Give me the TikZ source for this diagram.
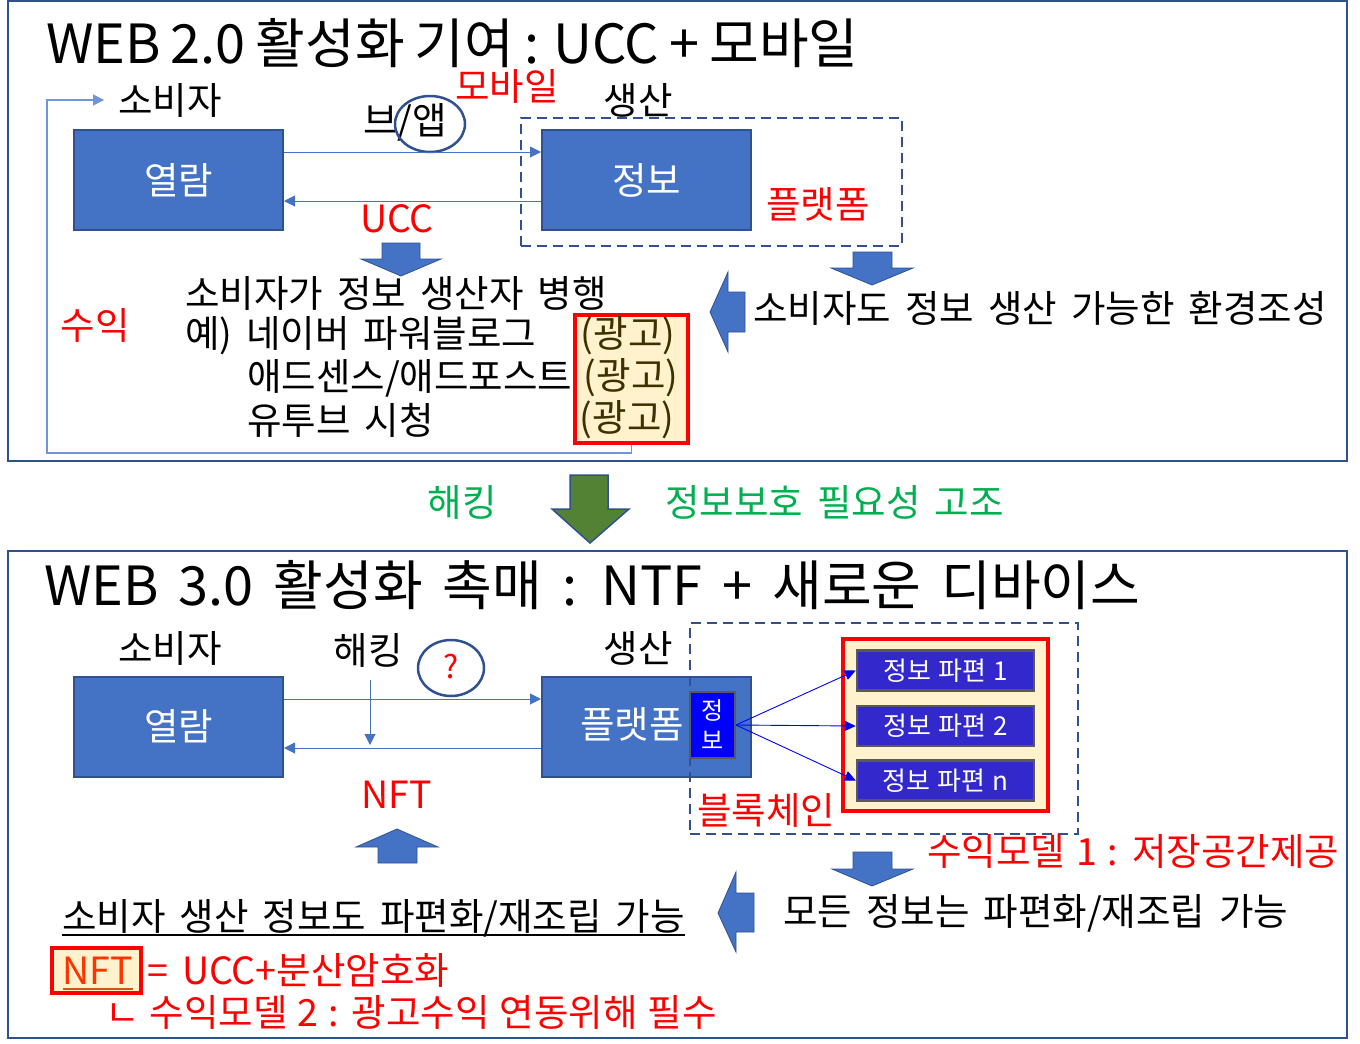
\documentclass[tikz,border=0pt]{standalone}
\usepackage{fontspec}
\setmainfont{Noto Sans CJK KR}
\usetikzlibrary{arrows.meta, positioning, shapes.geometric}
\definecolor{boxblue}{RGB}{68,114,196}
\definecolor{edgeblue}{RGB}{47,82,143}
\definecolor{linkblue}{RGB}{111,149,214}
\definecolor{adfill}{RGB}{255,242,204}
\definecolor{adtext}{RGB}{63,48,0}
\definecolor{hackgreen}{RGB}{0,176,80}
\definecolor{arrowgreen}{RGB}{84,130,53}
\definecolor{fragblue}{RGB}{51,40,204}
\definecolor{chipblue}{RGB}{0,0,255}
\definecolor{nftorange}{RGB}{255,51,0}
\definecolor{nftline}{RGB}{197,90,17}
\newcommand\wordgap[1]{\spaceskip#1\relax}

\begin{document}
\begin{tikzpicture}[x=1pt, y=-1pt,
  panel/.style={draw=edgeblue, line width=2pt},
  box/.style={draw=edgeblue, line width=2pt, fill=boxblue, minimum width=209pt,
              minimum height=100pt, text=white, font=\fontsize{37.5}{44}\selectfont},
  dashbox/.style={draw=edgeblue, line width=2.5pt, dash pattern=on 10pt off 6pt},
  ring/.style={draw=edgeblue, line width=2.5pt, ellipse, inner sep=0pt},
  title/.style={anchor=base west, inner sep=0pt, text depth=0pt,
                font=\fontsize{54}{64}\selectfont\wordgap{10pt}},
  txt/.style={inner sep=0pt, font=\fontsize{37.5}{44}\selectfont\wordgap{14pt}},
  redtxt/.style={txt, text=red},
  flow/.style={-{Triangle[length=11pt,width=11pt]}, draw=boxblue, line width=1pt},
  feedback/.style={-{Triangle[length=11pt,width=11pt]}, draw=linkblue, line width=1.2pt},
  blockarr/.style={fill=boxblue, draw=edgeblue, line width=0.8pt},
  adbox/.style={draw=red, line width=4pt, fill=adfill},
  frag/.style={draw=black!65, line width=2.5pt, fill=fragblue, text=white,
               minimum width=177pt, minimum height=40pt,
               font=\fontsize{26}{30}\selectfont\wordgap{7pt}},
  split/.style={-{Triangle[length=11pt,width=10pt]}, draw=chipblue, line width=0.9pt}
]
\useasboundingbox (0,0) rectangle (1360,1044);

% ---------- WEB 2.0 ----------
\draw[panel] (8,1) rectangle (1347,461);
\node[title] (title1) at (46,63) {WEB 2.0 활성화 기여 : UCC + 모바일};

\node[box] (view1) at (178.5,180) {열람};
\node[box] (info1) at (646.5,180) {정보};
\node[dashbox, minimum width=381pt, minimum height=128pt] (plat1) at (711.5,182) {};

\node[txt] (cons1) at (170,100) {소비자};
\node[txt] (prod1) at (638,100) {생산};
\node[txt] (app1) at (405,122) {브/앱};
\node[ring, minimum width=70pt, minimum height=56pt] (appring) at (430,124) {};
\node[redtxt] (mobile1) at (507,86) {모바일};
\node[redtxt] (ucc1) at (397,219) {UCC};
\node[redtxt] (platlbl1) at (818,204) {플랫폼};

\draw[flow] ([yshift=28pt]view1.east) -- ([yshift=28pt]info1.west);
\draw[flow] ([yshift=-21pt]info1.west) -- ([yshift=-21pt]view1.east);

\filldraw[blockarr] (382,243) -- (420,243) -- (420,259) -- (441,259) -- (401,276)
  -- (361,259) -- (382,259) -- cycle;
\filldraw[blockarr] (853,252) -- (892,252) -- (892,268) -- (913,268) -- (872,285)
  -- (831,268) -- (853,268) -- cycle;
\filldraw[blockarr] (745,292) -- (728,292) -- (728,272) -- (710,312) -- (728,352)
  -- (728,332) -- (745,332) -- cycle;

\node[txt, anchor=west] (both1) at (185,293) {소비자가 정보 생산자 병행};
\node[txt, anchor=west] (ex1) at (185,336) {예) 네이버 파워블로그};
\node[txt, anchor=west] (ex2) at (247,378) {애드센스/애드포스트};
\node[txt, anchor=west] (ex3) at (247,420) {유투브 시청};
\node[txt, anchor=west] (env1) at (753,308) {소비자도 정보 생산 가능한 환경조성};
\node[redtxt] (profit1) at (95,325) {수익};

\node[adbox, minimum width=113pt, minimum height=128pt] (ads) at (631.5,379) {};
\foreach \n/\x/\y in {1/628/336, 2/631/378, 3/627/420}
  \node[txt, text=adtext] (ad\n) at (\x,\y) {(광고)};

\draw[feedback] (ads.south) |- (47,453) |- ([xshift=-14pt]cons1.west);

% ---------- transition ----------
\node[txt, text=hackgreen] (hack0) at (462,502) {해킹};
\filldraw[fill=arrowgreen, draw=edgeblue, line width=1.5pt] (570,475) -- (608,475)
  -- (608,509) -- (629,509) -- (590,543) -- (552,509) -- (570,509) -- cycle;
\node[txt, text=hackgreen, anchor=west] (need0) at (665,502) {정보보호 필요성 고조};

% ---------- WEB 3.0 ----------
\draw[panel] (8,551) rectangle (1347,1038);
\node[title, font=\fontsize{54}{64}\selectfont\wordgap{20pt}] (title2) at (44,605)
  {WEB 3.0 활성화 촉매 : NTF + 새로운 디바이스};

\node[box] (view2) at (178.5,726.5) {열람};
\node[box] (plat2) at (646.5,726.5) {};
\node[txt, text=white] (platlbl2) at (632,724) {플랫폼};
\node[dashbox, minimum width=388pt, minimum height=211pt] (chain2) at (884,728.5) {};
\node[draw=black!65, line width=2pt, fill=chipblue, text=white, minimum width=45pt,
      minimum height=66pt, inner sep=0pt, align=center,
      font=\fontsize{24}{30}\selectfont] (chip) at (712.5,725) {정\\보};

\node[txt] (cons2) at (170,648) {소비자};
\node[txt] (hack2) at (368,650) {해킹};
\node[txt] (prod2) at (638,648) {생산};
\node[ring, minimum width=66pt, minimum height=56pt] (qring) at (451,668) {};
\node[redtxt, font=\fontsize{32}{38}\selectfont] (qmark) at (451,667) {?};

\draw[flow] ([yshift=27.5pt]view2.east) -- ([yshift=27.5pt]plat2.west);
\draw[flow] ([yshift=-21.5pt]plat2.west) -- ([yshift=-21.5pt]view2.east);
\coordinate (tap) at (370,745);
\draw[flow] (370,680) -- (tap);

\node[redtxt] (nft2) at (397,795) {NFT};
\filldraw[blockarr] (378,863) -- (378,847) -- (356,847) -- (397,829) -- (438,847)
  -- (417,847) -- (417,863) -- cycle;

\node[adbox, minimum width=205pt, minimum height=172pt] (store) at (945.5,725) {};
\foreach \n/\y/\t in {1/670.5/1, 2/726/2, 3/780.5/n}
  \node[frag] (frag\n) at (945.5,\y) {정보 파편 \t};
\foreach \n in {1,2,3}
  \draw[split] (chip.east) -- (frag\n.west);

\node[redtxt] (chainlbl) at (766,810) {블록체인};
\node[redtxt, anchor=west, font=\fontsize{37.5}{44}\selectfont\wordgap{11pt}] (model1)
  at (927,851) {수익모델 1 : 저장공간제공};

\filldraw[blockarr] (853,852) -- (892,852) -- (892,869) -- (913,869) -- (872,886)
  -- (832,869) -- (853,869) -- cycle;
\filldraw[blockarr] (754,893) -- (736,893) -- (736,872) -- (718,913) -- (736,952)
  -- (736,932) -- (754,932) -- cycle;
\node[txt, anchor=west] (frag0) at (783,913) {모든 정보는 파편화/재조립 가능};

\node[txt, anchor=west] (note2) at (62,918) {소비자 생산 정보도 파편화/재조립 가능};
\draw[line width=2pt] ([yshift=-5pt]note2.base west) -- ([yshift=-5pt]note2.base east);

\node[adbox, minimum width=89pt, minimum height=45pt] (nftbox) at (96.5,970.5) {};
\node[txt, text=nftorange] (nftword) at (98,971) {NFT};
\draw[nftline, line width=2pt] ([yshift=-4pt]nftword.base west) -- ([yshift=-4pt]nftword.base east);
\node[redtxt, anchor=west] (nftdef) at (147,970) {= UCC+분산암호화};
\node[redtxt, anchor=west, font=\fontsize{37.5}{44}\selectfont\wordgap{10pt}] (model2)
  at (105,1012) {ㄴ 수익모델 2 : 광고수익 연동위해 필수};
\end{tikzpicture}
\end{document}
